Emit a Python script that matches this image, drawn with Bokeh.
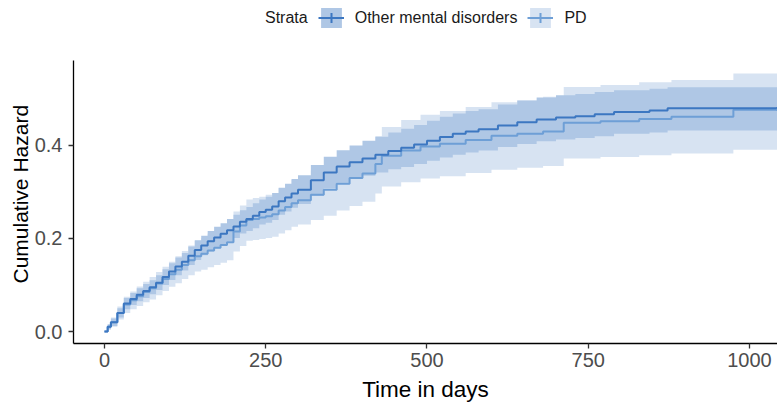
from bokeh.plotting import figure
from bokeh.models import (Range1d, FixedTicker, Legend, LegendItem, ColumnDataSource,
                          CustomJSTickFormatter, Title)
from bokeh.embed import file_html
from bokeh.resources import INLINE

# ---- data ----
other_t = [0, 5, 10, 20, 30, 40, 50, 60, 70, 80, 90, 100, 110, 120, 130, 140, 150, 160, 170, 180, 190,
           200, 210, 220, 230, 240, 250, 260, 270, 280, 290, 300, 320, 340, 360, 380, 400, 420, 440,
           460, 480, 500, 520, 540, 560, 580, 610, 640, 670, 700, 730, 760, 790, 845, 873, 1050]
other_h = [0, 0.01, 0.02, 0.04, 0.06, 0.07, 0.079, 0.087, 0.095, 0.105, 0.117, 0.129, 0.14, 0.15, 0.163,
           0.175, 0.185, 0.194, 0.202, 0.21, 0.218, 0.226, 0.236, 0.242, 0.249, 0.257, 0.262, 0.269,
           0.28, 0.288, 0.297, 0.305, 0.325, 0.342, 0.355, 0.364, 0.372, 0.38, 0.388, 0.395, 0.402,
           0.41, 0.418, 0.425, 0.43, 0.435, 0.443, 0.45, 0.456, 0.46, 0.463, 0.467, 0.472, 0.475,
           0.48, 0.48]
other_lo = [0, 0.005, 0.012, 0.03, 0.048, 0.057, 0.065, 0.072, 0.08, 0.089, 0.1, 0.111, 0.121, 0.131, 0.143,
            0.154, 0.164, 0.172, 0.179, 0.187, 0.194, 0.201, 0.211, 0.216, 0.222, 0.23, 0.234, 0.24,
            0.251, 0.258, 0.266, 0.274, 0.292, 0.308, 0.32, 0.328, 0.335, 0.342, 0.349, 0.354, 0.36,
            0.367, 0.374, 0.38, 0.385, 0.389, 0.397, 0.403, 0.409, 0.413, 0.416, 0.42, 0.425, 0.428,
            0.432, 0.432]
other_hi = [0, 0.015, 0.028, 0.05, 0.072, 0.083, 0.093, 0.102, 0.11, 0.121, 0.134, 0.147, 0.159, 0.169,
            0.183, 0.196, 0.206, 0.216, 0.225, 0.233, 0.242, 0.251, 0.261, 0.268, 0.276, 0.284, 0.29,
            0.298, 0.309, 0.318, 0.328, 0.336, 0.358, 0.376, 0.39, 0.4, 0.41, 0.419, 0.428, 0.436,
            0.444, 0.453, 0.462, 0.469, 0.474, 0.478, 0.488, 0.496, 0.503, 0.508, 0.511, 0.515, 0.519,
            0.522, 0.525, 0.525]

pd_t = [0, 5, 10, 20, 30, 40, 50, 60, 70, 80, 90, 100, 110, 120, 130, 140, 150, 160, 170, 180, 190,
        200, 210, 220, 230, 240, 250, 260, 270, 280, 290, 300, 320, 340, 360, 380, 400, 420, 430,
        460, 490, 520, 560, 600, 640, 680, 712, 769, 829, 879, 975, 1050]
pd_h = [0, 0.01, 0.02, 0.04, 0.058, 0.067, 0.076, 0.085, 0.093, 0.103, 0.113, 0.123, 0.133, 0.143, 0.153,
        0.162, 0.167, 0.174, 0.18, 0.186, 0.192, 0.215, 0.228, 0.24, 0.242, 0.245, 0.248, 0.252,
        0.26, 0.268, 0.276, 0.282, 0.294, 0.305, 0.318, 0.33, 0.34, 0.36, 0.378, 0.389, 0.398,
        0.404, 0.412, 0.421, 0.425, 0.43, 0.449, 0.452, 0.457, 0.462, 0.477, 0.477]
pd_lo = [0, 0.004, 0.01, 0.026, 0.04, 0.048, 0.055, 0.063, 0.069, 0.078, 0.087, 0.096, 0.104, 0.113, 0.121,
         0.129, 0.133, 0.138, 0.143, 0.148, 0.153, 0.172, 0.184, 0.195, 0.197, 0.199, 0.201, 0.204,
         0.211, 0.218, 0.225, 0.23, 0.24, 0.249, 0.26, 0.27, 0.279, 0.297, 0.312, 0.321, 0.329,
         0.334, 0.341, 0.348, 0.352, 0.356, 0.372, 0.375, 0.379, 0.383, 0.391, 0.391]
pd_hi = [0, 0.016, 0.03, 0.054, 0.075, 0.086, 0.097, 0.107, 0.117, 0.128, 0.139, 0.15, 0.162, 0.173, 0.185,
         0.195, 0.201, 0.21, 0.217, 0.224, 0.231, 0.258, 0.271, 0.284, 0.287, 0.29, 0.294, 0.298,
         0.308, 0.317, 0.326, 0.332, 0.346, 0.358, 0.373, 0.386, 0.398, 0.42, 0.44, 0.455, 0.466,
         0.474, 0.483, 0.493, 0.498, 0.505, 0.526, 0.53, 0.536, 0.541, 0.555, 0.555]

x_ticks = [0, 250, 500, 750, 1000]
y_ticks = [0.0, 0.2, 0.4]
strata_title = "Strata"
group_labels = ["Other mental disorders", "PD"]
x_title = "Time in days"
y_title = "Cumulative Hazard"

# ---- styles ----
OTHER_LINE = "#3c77c1"
PD_LINE = "#6e9fd6"
OTHER_BAND = "#afc7e5"
PD_BAND = "#d7e3f2"
FONT = "Liberation Sans"
Y_AXIS_TOP = 0.5828

p = figure(width=777, height=405, output_backend="svg", toolbar_location=None,
           x_range=Range1d(-48, 1043.4), y_range=Range1d(-0.0258, 0.7118),
           min_border_left=73, min_border_right=0, min_border_top=0, min_border_bottom=62)
p.outline_line_color = None
p.xgrid.visible = False
p.ygrid.visible = False
p.background_fill_color = "white"
p.border_fill_color = "white"

pd_src = ColumnDataSource(dict(t=pd_t, h=pd_h, lo=pd_lo, hi=pd_hi))
ot_src = ColumnDataSource(dict(t=other_t, h=other_h, lo=other_lo, hi=other_hi))

pd_band = p.varea_step(x="t", y1="lo", y2="hi", source=pd_src, step_mode="after", fill_color=PD_BAND)
ot_band = p.varea_step(x="t", y1="lo", y2="hi", source=ot_src, step_mode="after", fill_color=OTHER_BAND)
pd_line = p.step(x="t", y="h", source=pd_src, mode="after", line_color=PD_LINE, line_width=2)
ot_line = p.step(x="t", y="h", source=ot_src, mode="after", line_color=OTHER_LINE, line_width=2)

# censor-style "+" marks: only the final (off-screen) observation, used for the legend keys
ot_last = ColumnDataSource(dict(x=other_t[-1:], y=other_h[-1:]))
pd_last = ColumnDataSource(dict(x=pd_t[-1:], y=pd_h[-1:]))
ot_cross = p.scatter(x="x", y="y", source=ot_last, marker="cross", size=11, line_width=2, line_color=OTHER_LINE)
pd_cross = p.scatter(x="x", y="y", source=pd_last, marker="cross", size=11, line_width=2, line_color=PD_LINE)
empty = ColumnDataSource(dict(x=[], y=[]))
blank = p.scatter(x="x", y="y", source=empty, marker="circle", size=1, line_alpha=0, fill_alpha=0)

legend = Legend(items=[
    LegendItem(label=strata_title, renderers=[blank]),
    LegendItem(label=group_labels[0], renderers=[ot_band, ot_line, ot_cross]),
    LegendItem(label=group_labels[1], renderers=[pd_band, pd_line, pd_cross]),
], orientation="horizontal", location=(155, 313), padding=0, margin=0, spacing=10,
    glyph_width=26, glyph_height=25, label_standoff=11, label_height=25,
    label_text_font=FONT, label_text_font_size="16px", label_text_color="#1a1a1a",
    background_fill_alpha=0, border_line_alpha=0)
p.add_layout(legend, "center")

for ax in (p.xaxis[0], p.yaxis[0]):
    ax.axis_line_color = "black"
    ax.axis_line_width = 1.3
    ax.major_tick_line_color = "#333333"
    ax.major_tick_line_width = 1.3
    ax.major_tick_out = 5
    ax.major_tick_in = 0
    ax.minor_tick_line_color = None
    ax.major_label_text_font = FONT
    ax.major_label_text_font_size = "20px"
    ax.major_label_text_color = "#4d4d4d"
    ax.axis_label_text_font = FONT
    ax.axis_label_text_font_style = "normal"
    ax.axis_label_text_color = "black"

p.yaxis.bounds = (-0.0258, Y_AXIS_TOP)
p.xaxis.axis_label_text_font_size = "22.5px"
p.xaxis.ticker = FixedTicker(ticks=x_ticks)
p.yaxis.ticker = FixedTicker(ticks=y_ticks)
p.yaxis.formatter = CustomJSTickFormatter(code="return tick.toFixed(1);")
p.xaxis.axis_label = x_title
p.xaxis.major_label_standoff = 4
p.yaxis.major_label_standoff = 6
p.xaxis.axis_label_standoff = 7

ytitle = Title(text=y_title, align="left", offset=60, standoff=0,
               text_font=FONT, text_font_size="21px", text_font_style="normal", text_color="black")
p.add_layout(ytitle, "left")

open("out.html", "w").write(file_html(p, INLINE))
